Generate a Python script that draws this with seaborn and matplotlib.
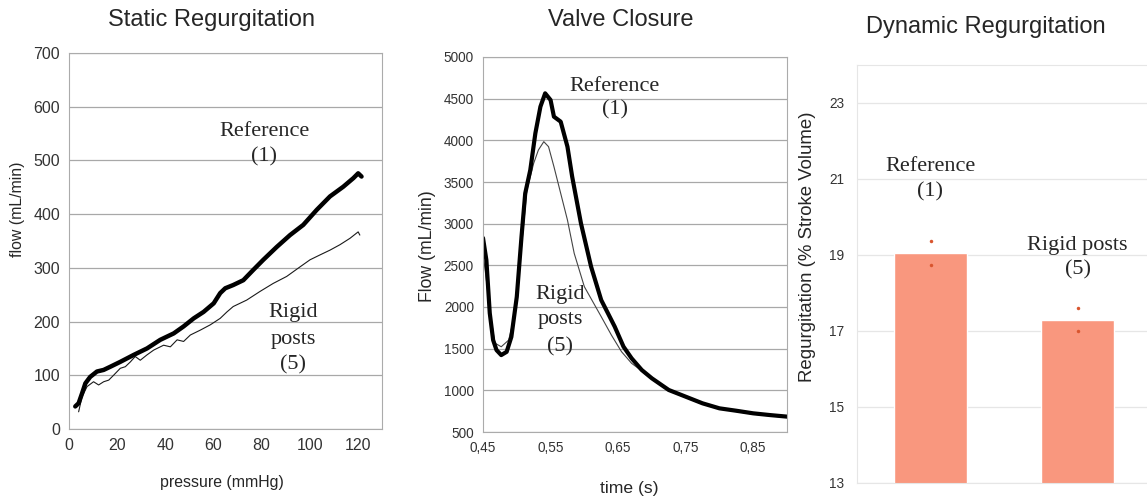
import numpy as np
import pandas as pd
import seaborn as sns
import matplotlib.pyplot as plt

# static regurgitation: flow vs pressure
static_ref_p = [2.6, 4.0, 5.4, 6.8, 8.8, 11.6, 14.4, 17.2, 21.3, 26.9, 32.4, 37.9, 43.5, 47.6,
                51.8, 55.9, 60.1, 62.8, 64.9, 68.2, 72.4, 76.5, 80.7, 86.3, 91.8, 97.3, 102.9,
                108.4, 113.9, 118.1, 120.1, 121.5]
static_ref_q = [42, 48, 66, 85, 97, 107, 110, 116, 125, 138, 150, 166, 178, 191,
                206, 218, 234, 253, 262, 268, 277, 296, 315, 339, 361, 380, 408,
                433, 451, 467, 476, 470]
static_rig_p = [4.0, 5.4, 7.5, 10.2, 12.3, 14.4, 16.5, 18.5, 21.3, 23.4, 25.5, 27.5, 29.6,
                32.4, 35.2, 39.3, 42.1, 44.9, 47.6, 50.4, 54.5, 58.7, 62.8, 65.6, 68.2, 73.8,
                79.3, 84.8, 90.4, 96.0, 100.1, 104.2, 108.4, 112.5, 116.7, 120.1, 120.8]
static_rig_q = [32, 60, 79, 88, 82, 88, 91, 100, 113, 116, 125, 135, 128,
                138, 147, 156, 153, 166, 163, 175, 184, 194, 206, 218, 228, 240,
                256, 271, 284, 302, 315, 324, 333, 343, 355, 367, 361]

# valve closure: flow vs time
vc_ref_t = [0.450, 0.455, 0.460, 0.465, 0.470, 0.477, 0.485, 0.492, 0.500, 0.507, 0.5125,
            0.520, 0.5275, 0.535, 0.542, 0.550, 0.555, 0.565, 0.575, 0.582, 0.595, 0.610,
            0.625, 0.635, 0.645, 0.658, 0.670, 0.685, 0.700, 0.725, 0.750, 0.775, 0.800,
            0.825, 0.850, 0.875, 0.902]
vc_ref_q = [2828, 2563, 1927, 1603, 1483, 1423, 1462, 1642, 2122, 2843, 3364,
            3644, 4084, 4404, 4564, 4484, 4284, 4224, 3924, 3564, 3004, 2484,
            2083, 1924, 1764, 1524, 1384, 1244, 1144, 1004, 924, 844, 784,
            755, 724, 703, 683]
vc_rig_t = [0.450, 0.455, 0.460, 0.4675, 0.477, 0.488, 0.4975, 0.507, 0.515, 0.525, 0.532,
            0.540, 0.547, 0.555, 0.565, 0.575, 0.585, 0.600, 0.625, 0.640, 0.655, 0.670,
            0.680, 0.700, 0.725, 0.750, 0.775, 0.800, 0.825, 0.850, 0.875, 0.902]
vc_rig_q = [2648, 2323, 1963, 1567, 1523, 1603, 1924, 2724, 3404, 3724, 3884,
            3984, 3924, 3684, 3364, 3044, 2644, 2244, 1884, 1664, 1464, 1324,
            1264, 1134, 994, 914, 834, 776, 745, 714, 693, 673]

# dynamic regurgitation
dyn_groups = ["Reference\n(1)", "Rigid posts\n(5)"]
dyn_means = [19.05, 17.3]
dyn_points_group = ["Reference\n(1)", "Reference\n(1)", "Rigid posts\n(5)", "Rigid posts\n(5)"]
dyn_points = [19.38, 18.75, 17.6, 17.0]

sns.set_style("white")
plt.rcParams["font.family"] = ["Liberation Sans", "DejaVu Sans"]
serif = ["Liberation Serif", "DejaVu Serif"]

W, H = 1147, 499
fig = plt.figure(figsize=(W / 100, H / 100), dpi=100)


def px_axes(l, t, r, b):
    return fig.add_axes([l / W, 1 - b / H, (r - l) / W, (b - t) / H])


frame = "#ababab"
grid = "#a8a8a8"

# ---- panel 1
ax1 = px_axes(69, 53, 382, 429)
df1a = pd.DataFrame({"p": static_ref_p, "q": static_ref_q})
df1b = pd.DataFrame({"p": static_rig_p, "q": static_rig_q})
sns.lineplot(data=df1b, x="p", y="q", ax=ax1, color="#1a1a1a", lw=0.8)
sns.lineplot(data=df1a, x="p", y="q", ax=ax1, color="black", lw=3.2)
ax1.set_xlim(0, 130)
ax1.set_ylim(0, 700)
ax1.set_xticks(range(0, 121, 20))
ax1.set_yticks(range(0, 701, 100))
ax1.tick_params(labelsize=11.5, colors="#333333", length=3, color=frame)
ax1.grid(axis="y", color=grid, lw=0.9)
for s in ax1.spines.values():
    s.set_color(frame)
ax1.set_xlabel("")
ax1.set_ylabel("")
ax1.text(81, 553, "Reference", family=serif, fontsize=16, ha="center", va="center")
ax1.text(81, 506, "(1)", family=serif, fontsize=16, ha="center", va="center")
for txt, y in [("Rigid", 216), ("posts", 166), ("(5)", 119)]:
    ax1.text(93, y, txt, family=serif, fontsize=16, ha="center", va="center")
fig.text(212 / W, 1 - 20 / H, "Static Regurgitation", fontsize=17, ha="center", va="center")
fig.text(222 / W, 1 - 483 / H, "pressure (mmHg)", fontsize=11.4, ha="center", va="center")
fig.text(18 / W, 1 - 209 / H, "flow (mL/min)", fontsize=11.4, ha="center", va="center",
         rotation=90)

# ---- panel 2
ax2 = px_axes(483, 57, 787, 432)
df2a = pd.DataFrame({"t": vc_ref_t, "q": vc_ref_q})
df2b = pd.DataFrame({"t": vc_rig_t, "q": vc_rig_q})
sns.lineplot(data=df2b, x="t", y="q", ax=ax2, color="#444444", lw=0.8)
sns.lineplot(data=df2a, x="t", y="q", ax=ax2, color="black", lw=3.0)
ax2.set_xlim(0.45, 0.9)
ax2.set_ylim(500, 5000)
ax2.set_xticks([0.45, 0.55, 0.65, 0.75, 0.85])
ax2.set_xticklabels(["0,45", "0,55", "0,65", "0,75", "0,85"])
ax2.set_yticks(range(500, 5001, 500))
ax2.tick_params(labelsize=9.8, colors="#333333", length=3, color=frame)
ax2.grid(axis="y", color=grid, lw=0.9)
for s in ax2.spines.values():
    s.set_color(frame)
ax2.set_xlabel("")
ax2.set_ylabel("")
ax2.text(0.645, 4641, "Reference", family=serif, fontsize=16, ha="center", va="center")
ax2.text(0.645, 4361, "(1)", family=serif, fontsize=16, ha="center", va="center")
for txt, y in [("Rigid", 2145), ("posts", 1845), ("(5)", 1526)]:
    ax2.text(0.564, y, txt, family=serif, fontsize=16, ha="center", va="center")
fig.text(621 / W, 1 - 20 / H, "Valve Closure", fontsize=17, ha="center", va="center")
fig.text(629 / W, 1 - 488 / H, "time (s)", fontsize=12.6, ha="center", va="center")
fig.text(428 / W, 1 - 246 / H, "Flow (mL/min)", fontsize=12.7, ha="center", va="center",
         rotation=90)

# ---- panel 3
ax3 = px_axes(857, 65, 1151, 483)
df3 = pd.DataFrame({"g": dyn_groups, "v": dyn_means})
df3p = pd.DataFrame({"g": dyn_points_group, "v": dyn_points})
sns.barplot(data=df3, x="g", y="v", ax=ax3, color="#f9977e", saturation=1, width=0.5)
sns.stripplot(data=df3p, x="g", y="v", ax=ax3, jitter=False, color="#d9552e", size=2.5)
ax3.set_xlim(-0.5, 1.5)
ax3.set_ylim(13, 24)
ax3.set_yticks([13, 15, 17, 19, 21, 23])
ax3.set_xticks([])
ax3.tick_params(labelsize=9.8, colors="#333333", length=0, pad=9)
ax3.grid(axis="y", color="#e6e6e6", lw=0.9)
ax3.set_axisbelow(True)
for s in ax3.spines.values():
    s.set_color("#e6e6e6")
ax3.set_xlabel("")
ax3.set_ylabel("")
ax3.text(0, 21.32, "Reference", family=serif, fontsize=16, ha="center", va="center")
ax3.text(0, 20.66, "(1)", family=serif, fontsize=16, ha="center", va="center")
ax3.text(1, 19.26, "Rigid posts", family=serif, fontsize=16, ha="center", va="center")
ax3.text(1, 18.6, "(5)", family=serif, fontsize=16, ha="center", va="center")
fig.text(986 / W, 1 - 27 / H, "Dynamic Regurgitation", fontsize=17, ha="center", va="center")
fig.text(808 / W, 1 - 247 / H, "Regurgitation (% Stroke Volume)", fontsize=13.4,
         ha="center", va="center", rotation=90)

fig.savefig("out.png", dpi=100)
